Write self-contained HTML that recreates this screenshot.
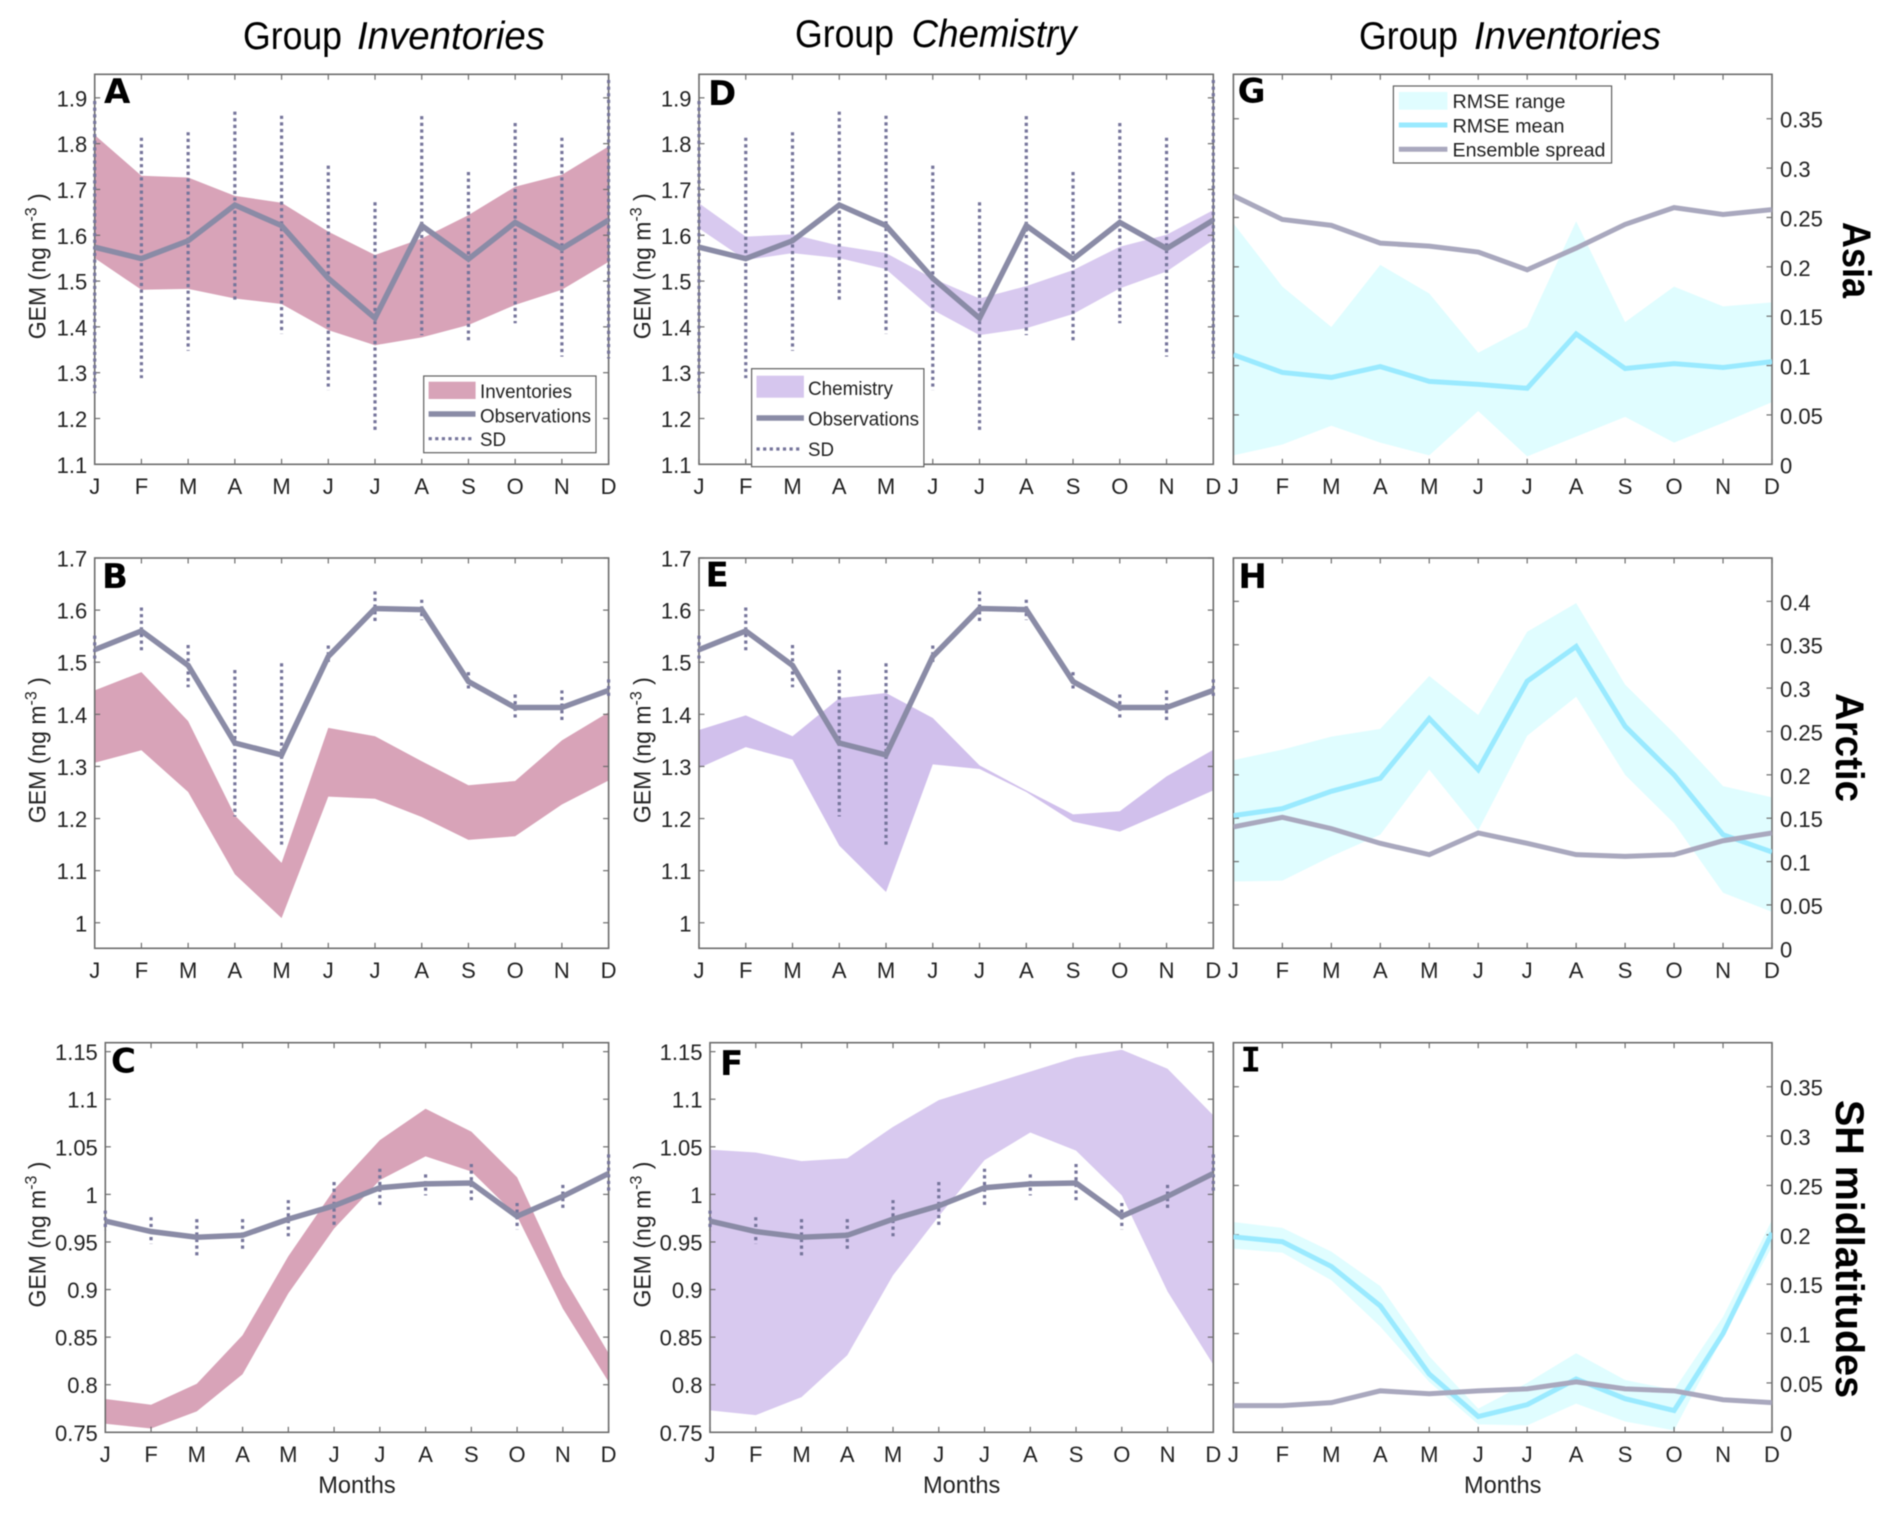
<!DOCTYPE html>
<html lang="en">
<head>
<meta charset="utf-8">
<title>Monthly GEM by region</title>
<style>
html,body{margin:0;padding:0;background:#fff;}
svg{display:block;font-family:"Liberation Sans",sans-serif;filter:blur(0.45px);}
</style>
</head>
<body>
<svg id="figure" xmlns="http://www.w3.org/2000/svg" width="1892" height="1513" viewBox="0 0 1892 1513">
  <rect width="1892" height="1513" fill="#fff"/>
  <g font-size="39" fill="#000">
    <text x="243" y="49" textLength="99" lengthAdjust="spacingAndGlyphs">Group</text>
    <text x="357" y="49" font-style="italic" textLength="188" lengthAdjust="spacingAndGlyphs">Inventories</text>
  </g>
  <g font-size="39" fill="#000">
    <text x="795" y="47" textLength="99" lengthAdjust="spacingAndGlyphs">Group</text>
    <text x="911.6" y="47" font-style="italic" textLength="165" lengthAdjust="spacingAndGlyphs">Chemistry</text>
  </g>
  <g font-size="39" fill="#000">
    <text x="1359" y="49" textLength="99" lengthAdjust="spacingAndGlyphs">Group</text>
    <text x="1474" y="49" font-style="italic" textLength="187" lengthAdjust="spacingAndGlyphs">Inventories</text>
  </g>
  <g id="panels"></g>

  <g>
    <rect x="423.7" y="376" width="172.3" height="76.7" fill="#fff" stroke="#5f5f5f" stroke-width="1.2"/>
    <rect x="428.6" y="381.7" width="47" height="17.3" fill="#d8a3b8"/>
    <text x="480" y="398" font-size="19" fill="#222" textLength="92" lengthAdjust="spacingAndGlyphs">Inventories</text>
    <line x1="428.6" x2="475.5" y1="414" y2="414" stroke="#8a8ba6" stroke-width="5.5"/>
    <text x="480" y="422.7" font-size="19" fill="#222" textLength="111" lengthAdjust="spacingAndGlyphs">Observations</text>
    <line x1="428.6" x2="474" y1="438.7" y2="438.7" stroke="#76759b" stroke-width="3.2" stroke-dasharray="3.2 3.4"/>
    <text x="480" y="446" font-size="19" fill="#222" textLength="26" lengthAdjust="spacingAndGlyphs">SD</text>
  </g>

  <g>
    <rect x="751.6" y="368.7" width="172.3" height="98" fill="#fff" stroke="#5f5f5f" stroke-width="1.2"/>
    <rect x="756.5" y="375.7" width="47.4" height="22" fill="#d6c6ee"/>
    <text x="808" y="395" font-size="19" fill="#222" textLength="85" lengthAdjust="spacingAndGlyphs">Chemistry</text>
    <line x1="756.5" x2="803.9" y1="418" y2="418" stroke="#8a8ba6" stroke-width="5.5"/>
    <text x="808" y="425.7" font-size="19" fill="#222" textLength="111" lengthAdjust="spacingAndGlyphs">Observations</text>
    <line x1="756.5" x2="802" y1="449" y2="449" stroke="#76759b" stroke-width="3.2" stroke-dasharray="3.2 3.4"/>
    <text x="808" y="456" font-size="19" fill="#222" textLength="26" lengthAdjust="spacingAndGlyphs">SD</text>
  </g>

  <g>
    <rect x="1393.4" y="86" width="218.2" height="77" fill="#fff" stroke="#5f5f5f" stroke-width="1.2"/>
    <rect x="1398.8" y="92" width="48.6" height="17.7" fill="#e0fdff"/>
    <text x="1452.5" y="108" font-size="19" fill="#222" textLength="113" lengthAdjust="spacingAndGlyphs">RMSE range</text>
    <line x1="1398.8" x2="1447.4" y1="125" y2="125" stroke="#9aeaff" stroke-width="5"/>
    <text x="1452.5" y="132.3" font-size="19" fill="#222" textLength="112" lengthAdjust="spacingAndGlyphs">RMSE mean</text>
    <line x1="1398.8" x2="1447.4" y1="149.3" y2="149.3" stroke="#a9a8be" stroke-width="5"/>
    <text x="1452.5" y="156.7" font-size="19" fill="#222" textLength="153" lengthAdjust="spacingAndGlyphs">Ensemble spread</text>
  </g>

  <text transform="translate(1843,222) rotate(90)" font-size="40" font-weight="bold" fill="#000" textLength="76" lengthAdjust="spacingAndGlyphs">Asia</text>
  <text transform="translate(1836,693) rotate(90)" font-size="40" font-weight="bold" fill="#000" textLength="109" lengthAdjust="spacingAndGlyphs">Arctic</text>
  <text transform="translate(1836,1100) rotate(90)" font-size="40" font-weight="bold" fill="#000" textLength="298" lengthAdjust="spacingAndGlyphs">SH midlatitudes</text>
</svg>

<script>
const months = ['J','F','M','A','M','J','J','A','S','O','N','D'];

const ticksAsiaGem = ['1.1','1.2','1.3','1.4','1.5','1.6','1.7','1.8','1.9'];
const ticksArcticGem = ['1','1.1','1.2','1.3','1.4','1.5','1.6','1.7'];
const ticksShGem = ['0.75','0.8','0.85','0.9','0.95','1','1.05','1.1','1.15'];
const ticksRmseAsia = ['0','0.05','0.1','0.15','0.2','0.25','0.3','0.35'];
const ticksRmseArctic = ['0','0.05','0.1','0.15','0.2','0.25','0.3','0.35','0.4'];
const ticksRmseSh = ['0','0.05','0.1','0.15','0.2','0.25','0.3','0.35'];

const obsAsia = [1.574,1.549,1.588,1.666,1.621,1.506,1.419,1.621,1.548,1.628,1.571,1.633];
const sdHiAsia = [1.893,1.813,1.825,1.870,1.861,1.752,1.672,1.860,1.738,1.845,1.813,1.939];
const sdLoAsia = [1.255,1.288,1.348,1.459,1.385,1.262,1.169,1.382,1.364,1.408,1.335,1.331];
const obsArctic = [1.524,1.560,1.494,1.345,1.322,1.511,1.603,1.601,1.463,1.413,1.413,1.446];
const sdHiArctic = [1.551,1.605,1.533,1.485,1.498,1.532,1.636,1.620,1.481,1.438,1.446,1.467];
const sdLoArctic = [1.500,1.519,1.452,1.204,1.147,1.494,1.574,1.581,1.443,1.388,1.383,1.430];
const obsSh = [0.972,0.961,0.955,0.957,0.974,0.988,1.007,1.011,1.012,0.977,0.998,1.022];
const sdHiSh = [0.983,0.976,0.974,0.974,0.994,1.013,1.027,1.021,1.032,0.991,1.010,1.042];
const sdLoSh = [0.962,0.948,0.935,0.941,0.954,0.965,0.986,0.999,0.991,0.963,0.984,1.001];

const invUpperAsia = [1.819,1.730,1.726,1.686,1.671,1.608,1.557,1.593,1.644,1.706,1.732,1.794];
const invLowerAsia = [1.550,1.481,1.483,1.462,1.450,1.393,1.360,1.377,1.404,1.448,1.481,1.542];
const invUpperArctic = [1.446,1.481,1.387,1.206,1.115,1.374,1.358,1.310,1.264,1.272,1.350,1.404];
const invLowerArctic = [1.307,1.331,1.251,1.093,1.009,1.242,1.238,1.203,1.159,1.166,1.227,1.273];
const invUpperSh = [0.785,0.779,0.801,0.852,0.935,1.005,1.057,1.090,1.066,1.018,0.914,0.833];
const invLowerSh = [0.759,0.754,0.772,0.811,0.896,0.964,1.015,1.040,1.024,0.977,0.880,0.803];

const chemUpperAsia = [1.670,1.597,1.602,1.577,1.561,1.506,1.462,1.489,1.524,1.575,1.601,1.655];
const chemLowerAsia = [1.615,1.546,1.561,1.550,1.526,1.437,1.382,1.397,1.428,1.484,1.521,1.590];
const chemUpperArctic = [1.370,1.398,1.358,1.431,1.441,1.393,1.302,1.254,1.208,1.214,1.281,1.332];
const chemLowerArctic = [1.297,1.337,1.313,1.148,1.059,1.304,1.295,1.251,1.194,1.175,1.214,1.254];
const chemUpperSh = [1.047,1.044,1.035,1.038,1.071,1.099,1.114,1.129,1.144,1.152,1.132,1.083];
const chemLowerSh = [0.773,0.768,0.787,0.831,0.915,0.977,1.036,1.065,1.046,0.999,0.898,0.821];

const rmseUpperAsia = [0.244,0.180,0.139,0.202,0.173,0.113,0.139,0.246,0.144,0.180,0.160,0.164];
const rmseLowerAsia = [0.009,0.020,0.039,0.022,0.009,0.054,0.008,0.028,0.048,0.022,0.042,0.063];
const rmseMeanAsia = [0.111,0.093,0.088,0.099,0.084,0.081,0.077,0.132,0.097,0.102,0.098,0.104];
const spreadAsia = [0.272,0.248,0.242,0.224,0.221,0.215,0.197,0.219,0.243,0.260,0.253,0.258];

const rmseUpperArctic = [0.217,0.229,0.244,0.253,0.314,0.269,0.365,0.398,0.304,0.248,0.187,0.174];
const rmseLowerArctic = [0.077,0.078,0.106,0.131,0.206,0.136,0.245,0.290,0.200,0.144,0.064,0.042];
const rmseMeanArctic = [0.153,0.161,0.181,0.196,0.265,0.206,0.308,0.348,0.256,0.200,0.131,0.111];
const spreadArctic = [0.140,0.151,0.138,0.121,0.108,0.133,0.121,0.108,0.106,0.108,0.124,0.133];

const rmseUpperSh = [0.213,0.207,0.183,0.148,0.077,0.024,0.050,0.080,0.053,0.043,0.117,0.215];
const rmseLowerSh = [0.186,0.182,0.154,0.107,0.051,0.008,0.007,0.029,0.011,0.002,0.097,0.188];
const rmseMeanSh = [0.198,0.193,0.168,0.128,0.059,0.016,0.028,0.054,0.034,0.022,0.100,0.202];
const spreadSh = [0.027,0.027,0.030,0.042,0.039,0.042,0.044,0.051,0.044,0.042,0.033,0.030];

const NS = 'http://www.w3.org/2000/svg';
const COL_INV = '#d8a3b8', COL_CHEM = '#d8c9ef', COL_CHEM_DARK = '#d1c0ec', COL_RMSE = '#e0fdff';
const row1 = {top:74.3, bottom:464.3, yMin:1.1, yMax:1.9514};
const row2 = {top:558, bottom:948.3, yMin:0.951, yMax:1.7};
const row3 = {top:1042.7, bottom:1432.3, yMin:0.75, yMax:1.1594};

const panelList = [
  {id:'a', letter:'A', lx:104, ly:103, left:94.7, right:608.6, row:row1, ticks:ticksAsiaGem, fill:COL_INV, upper:invUpperAsia, lower:invLowerAsia, obs:obsAsia, hi:sdHiAsia, lo:sdLoAsia, labelX:45.7},
  {id:'b', letter:'B', lx:102, ly:588, left:94.7, right:608.6, row:row2, ticks:ticksArcticGem, fill:COL_INV, upper:invUpperArctic, lower:invLowerArctic, obs:obsArctic, hi:sdHiArctic, lo:sdLoArctic, labelX:45.7},
  {id:'c', letter:'C', lx:111, ly:1072.7, left:105.3, right:608.6, row:row3, ticks:ticksShGem, fill:COL_INV, upper:invUpperSh, lower:invLowerSh, obs:obsSh, hi:sdHiSh, lo:sdLoSh, labelX:45.7, months:true},
  {id:'d', letter:'D', lx:708, ly:105, left:699, right:1213.3, row:row1, ticks:ticksAsiaGem, fill:COL_CHEM, upper:chemUpperAsia, lower:chemLowerAsia, obs:obsAsia, hi:sdHiAsia, lo:sdLoAsia, labelX:650.4},
  {id:'e', letter:'E', lx:705.5, ly:586.7, left:699, right:1213.3, row:row2, ticks:ticksArcticGem, fill:COL_CHEM_DARK, upper:chemUpperArctic, lower:chemLowerArctic, obs:obsArctic, hi:sdHiArctic, lo:sdLoArctic, labelX:650.4},
  {id:'f', letter:'F', lx:720, ly:1075, left:710, right:1213.3, row:row3, ticks:ticksShGem, fill:COL_CHEM, upper:chemUpperSh, lower:chemLowerSh, obs:obsSh, hi:sdHiSh, lo:sdLoSh, labelX:650.4, months:true},
  {id:'g', letter:'G', lx:1237.6, ly:102.7, left:1233.4, right:1772, row:{top:74.3,bottom:464.3,yMin:0,yMax:0.395}, ticks:ticksRmseAsia, fill:COL_RMSE, upper:rmseUpperAsia, lower:rmseLowerAsia, mean:rmseMeanAsia, spread:spreadAsia, axisRight:true},
  {id:'h', letter:'H', lx:1238.4, ly:588, left:1233.4, right:1772, row:{top:558,bottom:948.3,yMin:0,yMax:0.45}, ticks:ticksRmseArctic, fill:COL_RMSE, upper:rmseUpperArctic, lower:rmseLowerArctic, mean:rmseMeanArctic, spread:spreadArctic, axisRight:true},
  {id:'i', letter:'I', lx:1240.5, ly:1071.7, left:1233.4, right:1772, row:{top:1042.7,bottom:1432.3,yMin:0,yMax:0.3946}, ticks:ticksRmseSh, fill:COL_RMSE, upper:rmseUpperSh, lower:rmseLowerSh, mean:rmseMeanSh, spread:spreadSh, axisRight:true, months:true}
];

function svgEl(tag, attrs, parent, text){
  const el = document.createElementNS(NS, tag);
  for (const k in attrs) el.setAttribute(k, attrs[k]);
  if (text !== undefined) el.textContent = text;
  if (parent) parent.appendChild(el);
  return el;
}
function xAxis(p){ return i => p.left + (p.right - p.left) * i / (months.length - 1); }
function yAxis(p){ const r = p.row; return v => r.bottom - (v - r.yMin) / (r.yMax - r.yMin) * (r.bottom - r.top); }
function linePoints(values, x, y){ return values.map((v, i) => x(i).toFixed(2) + ',' + y(v).toFixed(2)).join(' '); }

const root = document.getElementById('panels');
panelList.forEach(p => {
  const x = xAxis(p), y = yAxis(p), r = p.row;
  const w = p.right - p.left, h = r.bottom - r.top;
  const g = svgEl('g', {}, root);
  
  

  const clip = svgEl('clipPath', {id:'clip-' + p.id}, g);
  svgEl('rect', {x:p.left, y:r.top, width:w, height:h}, clip);

  const bandPts = p.upper.map((v, i) => x(i).toFixed(2) + ',' + y(v).toFixed(2))
    .concat(p.lower.map((v, i) => x(i).toFixed(2) + ',' + y(v).toFixed(2)).reverse()).join(' ');
  const band = svgEl('polygon', {points:bandPts, fill:p.fill, 'clip-path':'url(#clip-' + p.id + ')'}, g);
  
  

  const frame = svgEl('rect', {x:p.left, y:r.top, width:w, height:h, fill:'none', stroke:'#6d6d6d', 'stroke-width':1.6}, g);
  
  

  months.forEach((m, i) => {
    const tb = svgEl('line', {x1:x(i), x2:x(i), y1:r.bottom, y2:r.bottom - 5.5, stroke:'#6d6d6d', 'stroke-width':1.2}, g);
    
    
    const tt = svgEl('line', {x1:x(i), x2:x(i), y1:r.top, y2:r.top + 5.5, stroke:'#6d6d6d', 'stroke-width':1.2}, g);
    
    
    const lab = svgEl('text', {x:x(i), y:r.bottom + 29.5, 'font-size':22, fill:'#222', 'text-anchor':'middle'}, g, m);
    
    
  });

  p.ticks.forEach(t => {
    const v = parseFloat(t), ty = y(v);
    const tl = svgEl('line', {x1:p.left, x2:p.left + 5.5, y1:ty, y2:ty, stroke:'#6d6d6d', 'stroke-width':1.2}, g);
    
    
    const tr = svgEl('line', {x1:p.right - 5.5, x2:p.right, y1:ty, y2:ty, stroke:'#6d6d6d', 'stroke-width':1.2}, g);
    
    
    const attrs = p.axisRight
      ? {x:p.right + 8, y:ty + 9, 'text-anchor':'start'}
      : {x:p.left - 7.5, y:ty + 8.5, 'text-anchor':'end'};
    attrs['font-size'] = 22;
    attrs.fill = '#222';
    const lab = svgEl('text', attrs, g, t);
    
    
  });

  if (p.obs) {
    months.forEach((m, i) => {
      const sd = svgEl('line', {x1:x(i), x2:x(i), y1:y(p.hi[i]), y2:y(p.lo[i]), stroke:'#76759b', 'stroke-width':3.2, 'stroke-dasharray':'3.2 3.4'}, g);
      
      
    });
    const obs = svgEl('polyline', {points:linePoints(p.obs, x, y), fill:'none', stroke:'#8a8ba6', 'stroke-width':5.5, 'stroke-linejoin':'miter', 'clip-path':'url(#clip-' + p.id + ')'}, g);
    
    

    const cy = (r.top + r.bottom) / 2 - 3;
    const yl = svgEl('text', {transform:'translate(' + p.labelX + ',' + cy + ') rotate(-90) scale(0.94,1)', 'font-size':24.5, fill:'#222', 'text-anchor':'middle'}, g);
    
    
    yl.appendChild(document.createTextNode('GEM (ng m'));
    svgEl('tspan', {dy:-9, 'font-size':17}, yl, '-3');
    svgEl('tspan', {dy:9}, yl, '\u00a0)');
  } else {
    const mean = svgEl('polyline', {points:linePoints(p.mean, x, y), fill:'none', stroke:'#9aeaff', 'stroke-width':5, 'clip-path':'url(#clip-' + p.id + ')'}, g);
    
    
    const spread = svgEl('polyline', {points:linePoints(p.spread, x, y), fill:'none', stroke:'#a9a8be', 'stroke-width':5, 'clip-path':'url(#clip-' + p.id + ')'}, g);
    
    
  }

  const letterFont = p.letter === 'I' ? '"DejaVu Sans Mono",monospace' : '"DejaVu Sans",sans-serif';
  const letter = svgEl('text', {x:p.lx, y:p.ly, 'font-size':34, 'font-weight':'bold', fill:'#000', 'font-family':letterFont}, g, p.letter);
  
  

  if (p.months) {
    const mt = svgEl('text', {x:(p.left + p.right) / 2, y:r.bottom + 60.5, 'font-size':23.6, fill:'#222', 'text-anchor':'middle'}, g, 'Months');
    
    
  }
});
</script>
</body>
</html>
